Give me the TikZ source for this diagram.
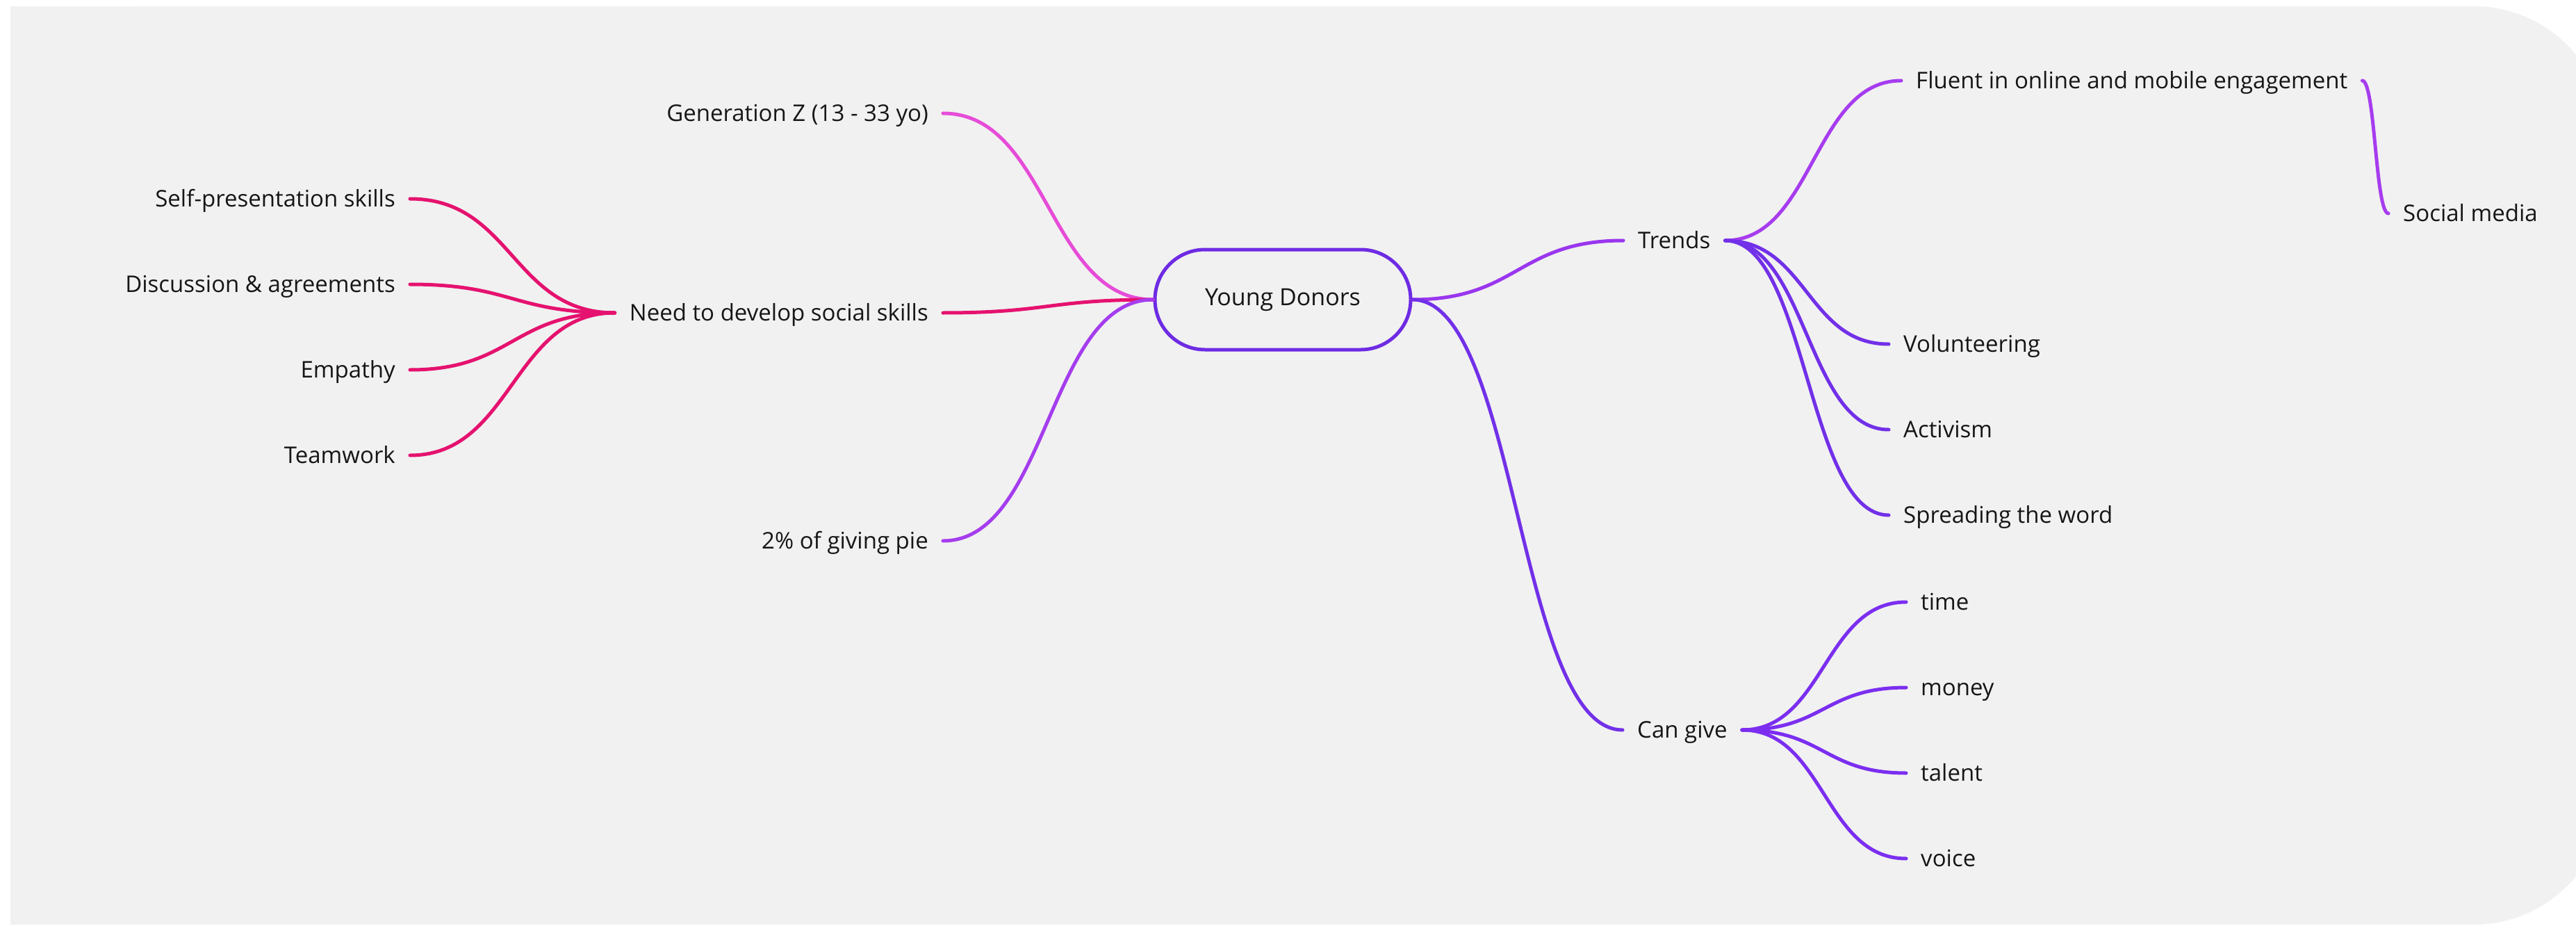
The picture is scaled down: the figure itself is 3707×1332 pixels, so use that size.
\documentclass[tikz,border=0pt]{standalone}
\usepackage{fontspec}
\setmainfont{Open Sans}
\usetikzlibrary{calc}

\definecolor{canvasbg}{HTML}{F1F1F1}
\definecolor{inktext}{HTML}{161616}
\definecolor{hubline}{HTML}{6E2BE3}
\definecolor{magentaline}{HTML}{E64CD8}
\definecolor{roseline}{HTML}{E5126F}
\definecolor{orchidline}{HTML}{A53DEE}
\definecolor{trendline}{HTML}{9A36EE}
\definecolor{fluentline}{HTML}{A73CEF}
\definecolor{indigoline}{HTML}{7230E8}
\definecolor{giveline}{HTML}{7B2EF0}

% S-shaped connector with horizontal tangents at both ends
\newcommand\curvelink[3]{%
  \draw[link,#1] let \p1=(#2), \p2=(#3), \n1={(\x2-\x1)/2} in
    (\p1) .. controls ({\x1+\n1},\y1) and ({\x2-\n1},\y2) .. (\p2);}

\begin{document}
\begin{tikzpicture}[x=1pt,y=-1pt,
  lbl/.style={font=\fontsize{33}{40}\selectfont, text=inktext,
    inner xsep=21pt, inner ysep=0pt, text height=23.5pt, text depth=0pt},
  leftlbl/.style={lbl, anchor=east},
  rightlbl/.style={lbl, anchor=west},
  hub/.style={draw=hubline, line width=5pt, rounded corners=72pt,
    minimum width=368pt, minimum height=144pt, inner sep=0pt,
    font=\fontsize{34}{40}\selectfont, text=inktext},
  link/.style={line width=5pt, line cap=round}]

\useasboundingbox (0,0) rectangle (3707,1332);

% canvas: square on the left, rounded on the right
\fill[canvasbg, rounded corners=190pt] (15,9) rectangle (3750,1330);
\fill[canvasbg] (15,9) rectangle (1000,1330);

% central topic
\node[hub] (yd) at (1846,431) {Young Donors};

% left side
\node[leftlbl] (genz) at (1357,163) {Generation Z (13 - 33 yo)};
\node[leftlbl] (need) at (1357,450) {Need to develop social skills};
\node[leftlbl] (pie)  at (1357,778) {2\% of giving pie};

\node[leftlbl] (selfp) at (590,286) {Self-presentation skills};
\node[leftlbl] (disc)  at (590,409) {Discussion \& agreements};
\node[leftlbl] (emp)   at (590,532) {Empathy};
\node[leftlbl] (team)  at (590,655) {Teamwork};

% right side
\node[rightlbl] (trends) at (2336,346) {Trends};
\node[rightlbl] (fluent) at (2736,116) {Fluent in online and mobile engagement};
\node[rightlbl] (social) at (3437,307) {Social media};
\node[rightlbl] (vol)    at (2718,495) {Volunteering};
\node[rightlbl] (act)    at (2718,618) {Activism};
\node[rightlbl] (spread) at (2718,741) {Spreading the word};

\node[rightlbl] (cangive) at (2335,1050) {Can give};
\node[rightlbl] (time)   at (2743,866)  {time};
\node[rightlbl] (money)  at (2743,989)  {money};
\node[rightlbl] (talent) at (2743,1112) {talent};
\node[rightlbl] (voice)  at (2743,1235) {voice};

% connectors, left
\curvelink{magentaline}{genz.east}{yd.west}
\curvelink{roseline}{need.east}{yd.west}
\curvelink{orchidline}{pie.east}{yd.west}
\curvelink{roseline}{selfp.east}{need.west}
\curvelink{roseline}{disc.east}{need.west}
\curvelink{roseline}{emp.east}{need.west}
\curvelink{roseline}{team.east}{need.west}

% connectors, right
\curvelink{trendline}{yd.east}{trends.west}
\curvelink{indigoline}{yd.east}{cangive.west}
\curvelink{fluentline}{trends.east}{fluent.west}
\curvelink{fluentline}{fluent.east}{social.west}
\curvelink{indigoline}{trends.east}{vol.west}
\curvelink{indigoline}{trends.east}{act.west}
\curvelink{indigoline}{trends.east}{spread.west}
\curvelink{giveline}{cangive.east}{time.west}
\curvelink{giveline}{cangive.east}{money.west}
\curvelink{giveline}{cangive.east}{talent.west}
\curvelink{giveline}{cangive.east}{voice.west}

\end{tikzpicture}
\end{document}
